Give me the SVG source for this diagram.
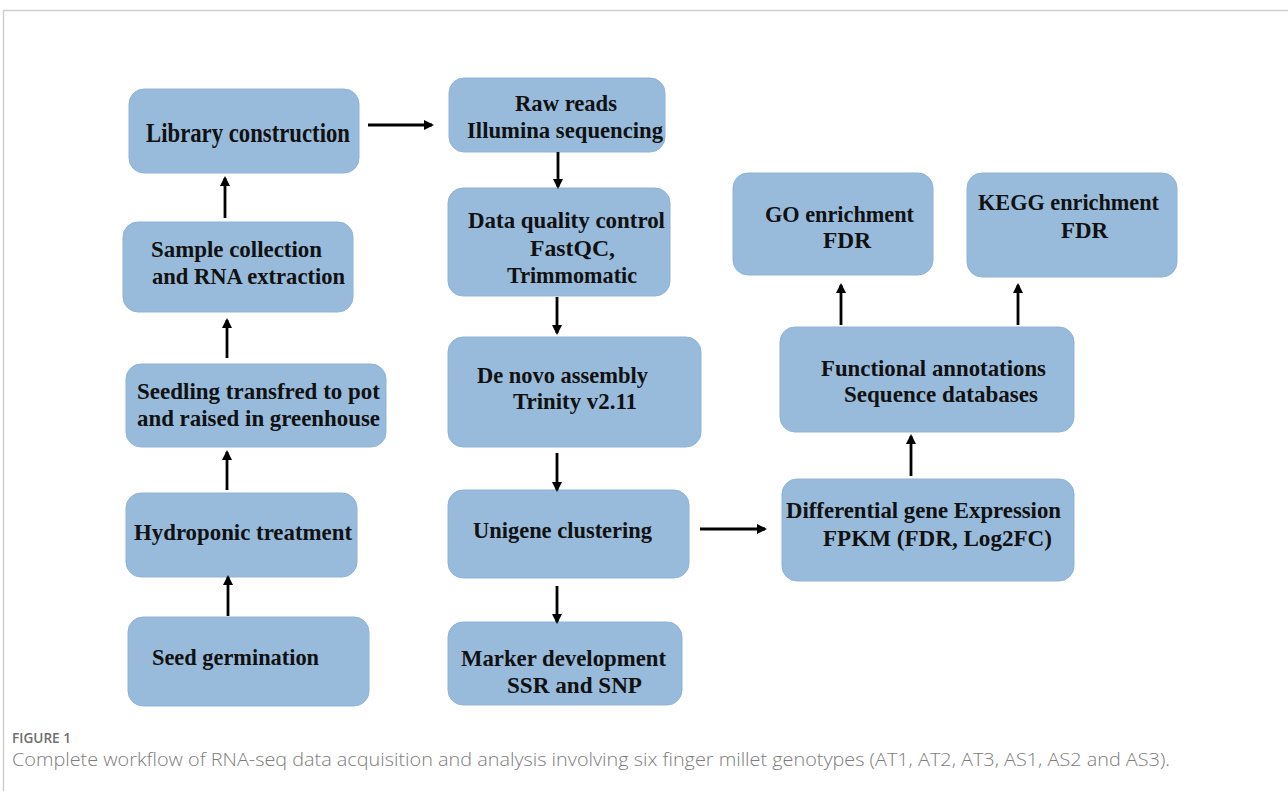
<svg xmlns="http://www.w3.org/2000/svg" width="1288" height="791" viewBox="0 0 1288 791">
<defs>
<style>
.box{fill:#98bbdc;stroke:#8fb3d6;stroke-width:1}
.t{font-family:"Liberation Serif","Times New Roman",serif;font-weight:bold;font-size:24px;fill:#111}
.tl{font-size:27px}
.c{stroke:#000;stroke-width:2.8;fill:none;marker-end:url(#ah)}
.cap1{font-family:"Open Sans","Liberation Sans",sans-serif;font-size:14px;font-weight:600;fill:#6e6e6e}
.cap2{font-family:"Open Sans","Liberation Sans",sans-serif;font-size:18px;font-weight:300;fill:#7c7c7c}
</style>
<marker id="ah" markerWidth="12" markerHeight="12" refX="8" refY="5" orient="auto" markerUnits="userSpaceOnUse">
<path d="M0,0 L10,5 L0,10 Z" fill="#000"/>
</marker>
</defs>
<rect width="1288" height="791" fill="#fff"/>
<path d="M3.5,791 V10.5 H1288" fill="none" stroke="#cfcfcf" stroke-width="1.5"/>

<g id="n-library"><rect class="box" x="129" y="89" width="230" height="84" rx="15"/><text class="t tl" x="146" y="142" textLength="204" lengthAdjust="spacingAndGlyphs">Library  construction</text></g>
<g id="n-sample"><rect class="box" x="123" y="222" width="230" height="90" rx="15"/><text class="t" x="151" y="257" textLength="171" lengthAdjust="spacingAndGlyphs">Sample collection</text><text class="t" x="152" y="284" textLength="193" lengthAdjust="spacingAndGlyphs">and RNA extraction</text></g>
<g id="n-seedling"><rect class="box" x="126" y="364" width="260" height="83" rx="15"/><text class="t" x="137" y="399" textLength="243" lengthAdjust="spacingAndGlyphs">Seedling transfred to pot</text><text class="t" x="137" y="426" textLength="243" lengthAdjust="spacingAndGlyphs">and raised in greenhouse</text></g>
<g id="n-hydro"><rect class="box" x="126" y="493" width="231" height="84" rx="15"/><text class="t" x="134" y="540" textLength="218" lengthAdjust="spacingAndGlyphs">Hydroponic treatment</text></g>
<g id="n-seed"><rect class="box" x="128" y="617" width="241" height="89" rx="15"/><text class="t" x="152" y="665" textLength="167" lengthAdjust="spacingAndGlyphs">Seed germination</text></g>

<g id="n-raw"><rect class="box" x="449" y="78" width="216" height="74" rx="15"/><text class="t" x="515" y="111" textLength="102" lengthAdjust="spacingAndGlyphs">Raw reads</text><text class="t" x="467" y="138" textLength="196" lengthAdjust="spacingAndGlyphs">Illumina sequencing</text></g>
<g id="n-qc"><rect class="box" x="448" y="188" width="222" height="108" rx="15"/><text class="t" x="468" y="228" textLength="197" lengthAdjust="spacingAndGlyphs">Data quality control</text><text class="t" x="530" y="256" textLength="85" lengthAdjust="spacingAndGlyphs">FastQC,</text><text class="t" x="507" y="283" textLength="130" lengthAdjust="spacingAndGlyphs">Trimmomatic</text></g>
<g id="n-denovo"><rect class="box" x="448" y="337" width="253" height="110" rx="15"/><text class="t" x="477" y="383" textLength="171" lengthAdjust="spacingAndGlyphs">De novo assembly</text><text class="t" x="513" y="409" textLength="124" lengthAdjust="spacingAndGlyphs">Trinity v2.11</text></g>
<g id="n-unigene"><rect class="box" x="448" y="490" width="241" height="88" rx="15"/><text class="t" x="473" y="538" textLength="179" lengthAdjust="spacingAndGlyphs">Unigene clustering</text></g>
<g id="n-marker"><rect class="box" x="448" y="622" width="234" height="83" rx="15"/><text class="t" x="461" y="666" textLength="205" lengthAdjust="spacingAndGlyphs">Marker development</text><text class="t" x="507" y="693" textLength="135" lengthAdjust="spacingAndGlyphs">SSR and SNP</text></g>

<g id="n-go"><rect class="box" x="733" y="173" width="200" height="102" rx="15"/><text class="t" x="765" y="222" textLength="149" lengthAdjust="spacingAndGlyphs">GO enrichment</text><text class="t" x="823" y="248" textLength="48" lengthAdjust="spacingAndGlyphs">FDR</text></g>
<g id="n-kegg"><rect class="box" x="967" y="173" width="210" height="104" rx="15"/><text class="t" x="978" y="210" textLength="181" lengthAdjust="spacingAndGlyphs">KEGG enrichment</text><text class="t" x="1061" y="238" textLength="47" lengthAdjust="spacingAndGlyphs">FDR</text></g>
<g id="n-func"><rect class="box" x="780" y="327" width="294" height="105" rx="15"/><text class="t" x="821" y="376" textLength="225" lengthAdjust="spacingAndGlyphs">Functional annotations</text><text class="t" x="844" y="402" textLength="194" lengthAdjust="spacingAndGlyphs">Sequence databases</text></g>
<g id="n-deg"><rect class="box" x="782" y="479" width="292" height="102" rx="15"/><text class="t" x="786" y="518" textLength="275" lengthAdjust="spacingAndGlyphs">Differential gene Expression</text><text class="t" x="823" y="546" textLength="229" lengthAdjust="spacingAndGlyphs">FPKM (FDR, Log2FC)</text></g>

<g id="connectors">
<line class="c" x1="368" y1="125" x2="432" y2="125"/>
<line class="c" x1="225" y1="218" x2="225" y2="178"/>
<line class="c" x1="227" y1="358" x2="227" y2="320"/>
<line class="c" x1="227" y1="490" x2="227" y2="452"/>
<line class="c" x1="228" y1="616" x2="228" y2="577"/>
<line class="c" x1="558" y1="152" x2="558" y2="187"/>
<line class="c" x1="557" y1="297" x2="557" y2="333"/>
<line class="c" x1="557" y1="453" x2="557" y2="490"/>
<line class="c" x1="557" y1="586" x2="557" y2="622"/>
<line class="c" x1="700" y1="529" x2="765" y2="529"/>
<line class="c" x1="911" y1="476" x2="911" y2="436"/>
<line class="c" x1="841" y1="325" x2="841" y2="285"/>
<line class="c" x1="1018" y1="325" x2="1018" y2="285"/>
</g>

<text class="cap1" x="12" y="743" textLength="59" lengthAdjust="spacingAndGlyphs">FIGURE 1</text>
<text class="cap2" x="12" y="766" textLength="1158" lengthAdjust="spacingAndGlyphs">Complete workflow of RNA-seq data acquisition and analysis involving six finger millet genotypes (AT1, AT2, AT3, AS1, AS2 and AS3).</text>
</svg>
